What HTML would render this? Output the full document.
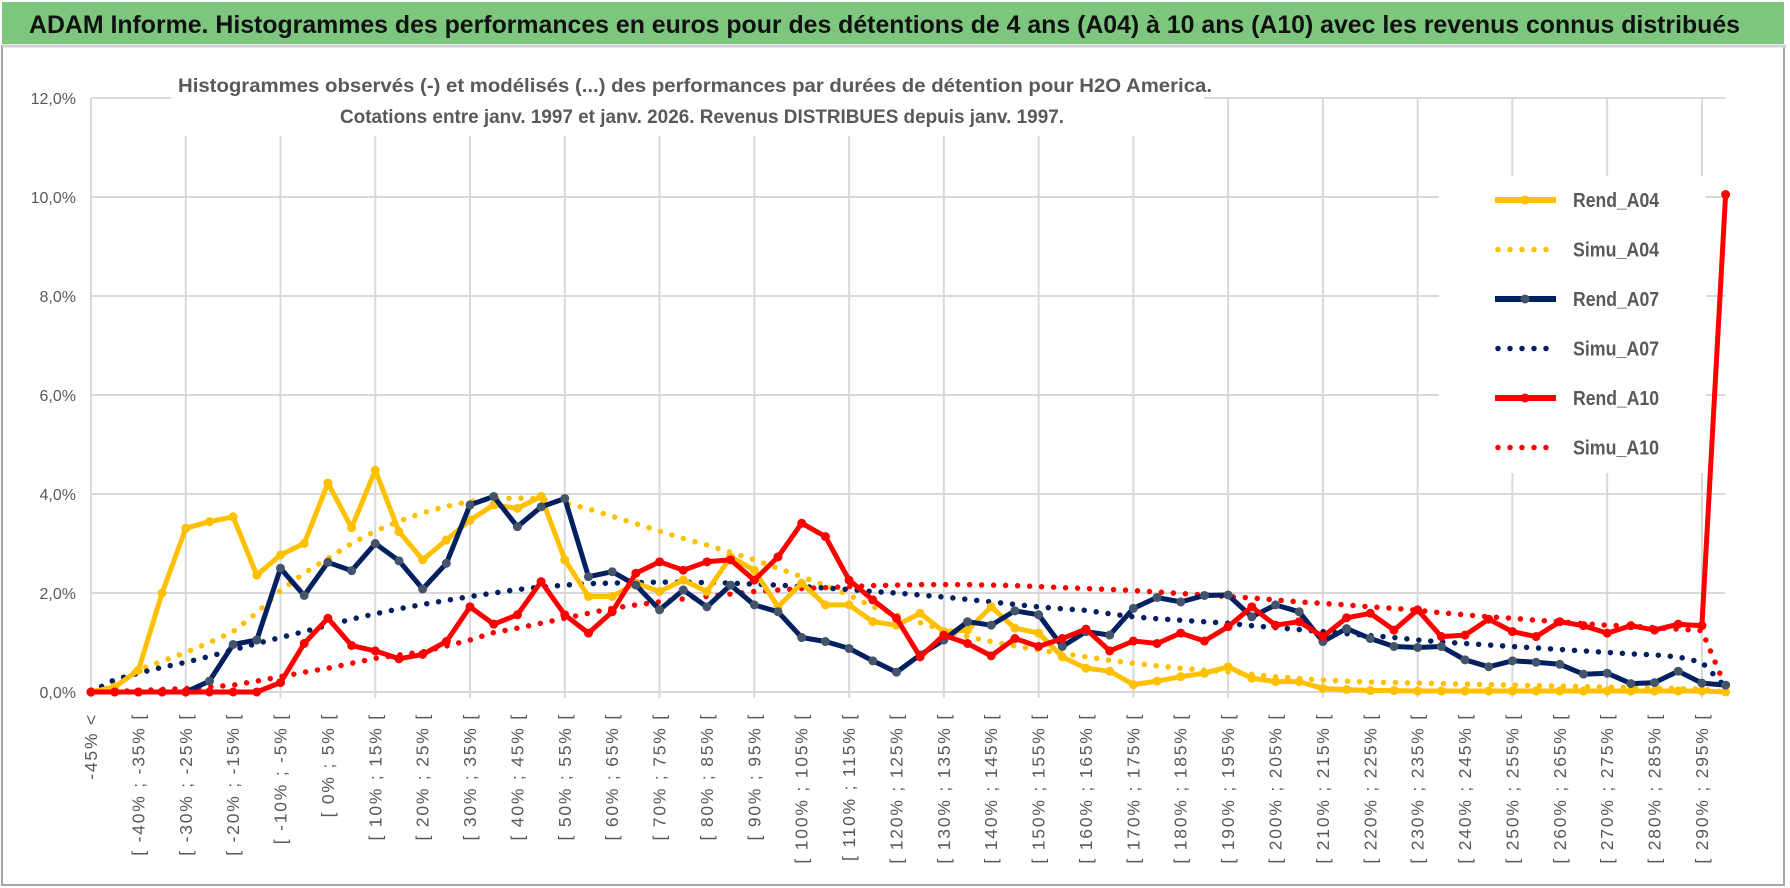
<!DOCTYPE html>
<html><head><meta charset="utf-8"><style>
html,body{margin:0;padding:0;background:#fff;}
svg{display:block;font-family:"Liberation Sans",sans-serif;}
</style></head><body>
<svg id="chart" width="1790" height="888" viewBox="0 0 1790 888">
<rect x="0" y="0" width="1790" height="888" fill="#fff"/>
<rect x="2" y="46" width="1782" height="839" fill="#fff" stroke="#a6a6a6" stroke-width="2"/>
<rect x="2" y="2" width="1782" height="42" fill="#7dc67e"/>
<line x1="2" y1="46" x2="1786" y2="46" stroke="#d0d0d0" stroke-width="3"/>
<text x="29" y="33" font-size="25" font-weight="bold" fill="#111" textLength="1711" lengthAdjust="spacingAndGlyphs">ADAM Informe. Histogrammes des performances en euros pour des détentions de 4 ans (A04) à 10 ans (A10) avec les revenus connus distribués</text>
<g id="grid"></g>
<rect x="171" y="60" width="1033" height="76" fill="#fff"/>
<text x="695" y="92" font-size="19" font-weight="bold" fill="#595959" text-anchor="middle" textLength="1034" lengthAdjust="spacingAndGlyphs">Histogrammes observés (-) et modélisés (...) des performances par durées de détention pour H2O America.</text>
<text x="702" y="123" font-size="19" font-weight="bold" fill="#595959" text-anchor="middle" textLength="724" lengthAdjust="spacingAndGlyphs">Cotations entre janv. 1997 et janv. 2026. Revenus DISTRIBUES depuis janv. 1997.</text>
<g id="yaxis"></g>
<g id="xaxis"></g>
<rect x="1439" y="176" width="267" height="297" fill="#fff"/>
<g id="series"></g>
<g id="legend"></g>
</svg>
<script>
const xLabels = ["-45% <","[ -40% ; -35% [","[ -30% ; -25% [","[ -20% ; -15% [","[ -10% ; -5% [","[ 0% ; 5% [","[ 10% ; 15% [","[ 20% ; 25% [","[ 30% ; 35% [","[ 40% ; 45% [","[ 50% ; 55% [","[ 60% ; 65% [","[ 70% ; 75% [","[ 80% ; 85% [","[ 90% ; 95% [","[ 100% ; 105% [","[ 110% ; 115% [","[ 120% ; 125% [","[ 130% ; 135% [","[ 140% ; 145% [","[ 150% ; 155% [","[ 160% ; 165% [","[ 170% ; 175% [","[ 180% ; 185% [","[ 190% ; 195% [","[ 200% ; 205% [","[ 210% ; 215% [","[ 220% ; 225% [","[ 230% ; 235% [","[ 240% ; 245% [","[ 250% ; 255% [","[ 260% ; 265% [","[ 270% ; 275% [","[ 280% ; 285% [","[ 290% ; 295% ["];
const yTicks = [0,2,4,6,8,10,12];
const yTickLabels = ["0,0%","2,0%","4,0%","6,0%","8,0%","10,0%","12,0%"];
const rendA04 = [0,0.1,0.44,2.0,3.31,3.44,3.54,2.36,2.77,3.0,4.22,3.32,4.48,3.24,2.67,3.07,3.47,3.78,3.71,3.95,2.67,1.93,1.93,2.2,2.03,2.26,2.03,2.73,2.46,1.72,2.2,1.76,1.76,1.42,1.35,1.59,1.22,1.25,1.72,1.29,1.19,0.71,0.48,0.42,0.15,0.22,0.31,0.38,0.51,0.28,0.21,0.21,0.07,0.05,0.03,0.03,0.02,0.02,0.02,0.02,0.02,0.02,0.02,0.02,0.02,0.02,0.02,0.02,0.02,0];
const simuA04 = [0,0.2,0.45,0.62,0.8,1.0,1.22,1.6,2.05,2.4,2.7,3.0,3.25,3.45,3.62,3.75,3.85,3.9,3.92,3.9,3.82,3.7,3.55,3.4,3.25,3.1,2.97,2.82,2.67,2.5,2.33,2.15,1.96,1.72,1.56,1.4,1.25,1.12,1.02,0.93,0.85,0.78,0.71,0.64,0.58,0.53,0.48,0.44,0.41,0.36,0.31,0.27,0.24,0.22,0.2,0.19,0.18,0.17,0.16,0.15,0.14,0.13,0.12,0.11,0.1,0.09,0.08,0.07,0.06,0];
const rendA07 = [0,0,0,0,0,0.22,0.96,1.05,2.5,1.95,2.62,2.45,3.0,2.65,2.08,2.6,3.78,3.95,3.34,3.74,3.91,2.33,2.43,2.16,1.66,2.06,1.72,2.16,1.76,1.62,1.1,1.02,0.88,0.63,0.4,0.75,1.05,1.42,1.35,1.64,1.56,0.92,1.22,1.15,1.69,1.91,1.82,1.95,1.96,1.52,1.76,1.62,1.02,1.28,1.08,0.92,0.9,0.92,0.65,0.51,0.63,0.6,0.56,0.36,0.38,0.17,0.19,0.42,0.18,0.14];
const simuA07 = [0,0.25,0.38,0.5,0.6,0.72,0.85,0.98,1.1,1.22,1.35,1.47,1.58,1.68,1.77,1.85,1.93,2.0,2.07,2.12,2.16,2.19,2.2,2.21,2.22,2.22,2.21,2.2,2.18,2.16,2.13,2.1,2.07,2.03,2.0,1.96,1.92,1.87,1.82,1.77,1.72,1.68,1.65,1.58,1.52,1.48,1.45,1.42,1.39,1.34,1.3,1.26,1.22,1.18,1.14,1.1,1.05,1.01,0.98,0.95,0.92,0.89,0.86,0.83,0.8,0.77,0.75,0.71,0.6,0.1];
const rendA10 = [0,0,0,0,0,0,0,0,0.19,0.98,1.49,0.94,0.83,0.67,0.76,1.02,1.72,1.37,1.56,2.23,1.56,1.19,1.62,2.4,2.63,2.46,2.63,2.67,2.26,2.73,3.41,3.14,2.26,1.86,1.49,0.71,1.15,0.98,0.73,1.08,0.92,1.08,1.27,0.83,1.03,0.98,1.19,1.03,1.32,1.72,1.35,1.42,1.12,1.5,1.59,1.25,1.66,1.12,1.15,1.47,1.22,1.12,1.42,1.34,1.19,1.34,1.25,1.37,1.34,10.05];
const simuA10 = [0,0.01,0.03,0.05,0.07,0.1,0.14,0.22,0.31,0.4,0.48,0.58,0.68,0.75,0.81,0.93,1.05,1.2,1.29,1.39,1.49,1.59,1.69,1.76,1.82,1.88,1.93,1.98,2.03,2.06,2.09,2.11,2.13,2.15,2.16,2.17,2.17,2.17,2.16,2.15,2.13,2.11,2.09,2.07,2.05,2.02,1.99,1.96,1.93,1.9,1.86,1.82,1.79,1.76,1.72,1.69,1.65,1.6,1.56,1.52,1.49,1.45,1.42,1.38,1.35,1.33,1.3,1.27,1.24,0.1];
const legendNames = ["Rend_A04","Simu_A04","Rend_A07","Simu_A07","Rend_A10","Simu_A10"];

const NS = "http://www.w3.org/2000/svg";
const X0 = 91, STEP = 23.69, Y0 = 692, PER = 49.5;
const xs = i => X0 + STEP * i;
const ys = v => Y0 - PER * v;
function mk(tag, attrs, parent){ const e=document.createElementNS(NS,tag); for(const k in attrs) e.setAttribute(k,attrs[k]); parent.appendChild(e); return e; }

const grid = document.getElementById('grid');
yTicks.forEach(t=>{
  const l = mk('line',{x1:X0,x2:xs(69),y1:ys(t),y2:ys(t),stroke:'#d9d9d9','stroke-width':2},grid);
  
  
});
for(let i=0;i<=68;i+=4){
  const l = mk('line',{x1:xs(i),x2:xs(i),y1:ys(12),y2:ys(0)+6,stroke:'#d9d9d9','stroke-width':2},grid);
  
  
}
const ya = document.getElementById('yaxis');
yTicks.forEach((t,k)=>{
  const tx = mk('text',{x:76,y:ys(t)+6,'font-size':16,fill:'#595959','text-anchor':'end'},ya);
  tx.textContent = yTickLabels[k];
  
  
});
const xa = document.getElementById('xaxis');
xLabels.forEach((s,k)=>{
  const x = xs(k*2)+6, y = 713;
  const tx = mk('text',{x:x,y:y,'font-size':17.5,fill:'#595959','text-anchor':'end','letter-spacing':'1.8',transform:`rotate(-90 ${x} ${y})`},xa);
  tx.textContent = s;
  
  
});

const ser = document.getElementById('series');
function pts(arr){ return arr.map((v,i)=>xs(i).toFixed(1)+','+ys(v).toFixed(1)).join(' '); }
function dotted(arr,color,name){
  const p = mk('polyline',{points:pts(arr),fill:'none',stroke:color,'stroke-width':5.5,'stroke-linecap':'round','stroke-dasharray':'0 12'},ser);
  
  
}
function solid(arr,color,mcolor,name){
  const g = mk('g',{},ser);
  
  
  mk('polyline',{points:pts(arr),fill:'none',stroke:color,'stroke-width':5,'stroke-linejoin':'round'},g);
  arr.forEach((v,i)=>{
    const c = mk('circle',{cx:xs(i),cy:ys(v),r:4.5,fill:mcolor},g);
    
    
  });
}
dotted(simuA04,'#ffc000','simu-a04-line');
dotted(simuA07,'#002060','simu-a07-line');
dotted(simuA10,'#ff0000','simu-a10-line');
solid(rendA04,'#ffc000','#ffc000','rend-a04-line');
solid(rendA07,'#002060','#44546a','rend-a07-line');
solid(rendA10,'#ff0000','#ff0000','rend-a10-line');

const lg = document.getElementById('legend');
const lstyle = [['#ffc000',false],['#ffc000',true],['#002060',false],['#002060',true],['#ff0000',false],['#ff0000',true]];
legendNames.forEach((n,k)=>{
  const y = 200 + 49.5*k;
  const g = mk('g',{},lg);
  
  
  const [c,dot] = lstyle[k];
  if(dot){
    mk('line',{x1:1498,x2:1556,y1:y,y2:y,stroke:c,'stroke-width':5.5,'stroke-linecap':'round','stroke-dasharray':'0 12'},g);
  } else {
    mk('line',{x1:1495,x2:1556,y1:y,y2:y,stroke:c,'stroke-width':6},g);
    mk('circle',{cx:1525,cy:y,r:4.5,fill:k===2?'#44546a':c},g);
  }
  const t = mk('text',{x:1573,y:y+7,'font-size':20,'font-weight':'bold',fill:'#595959',textLength:86,lengthAdjust:'spacingAndGlyphs'},g);
  t.textContent = n;
});
</script>
</body></html>
